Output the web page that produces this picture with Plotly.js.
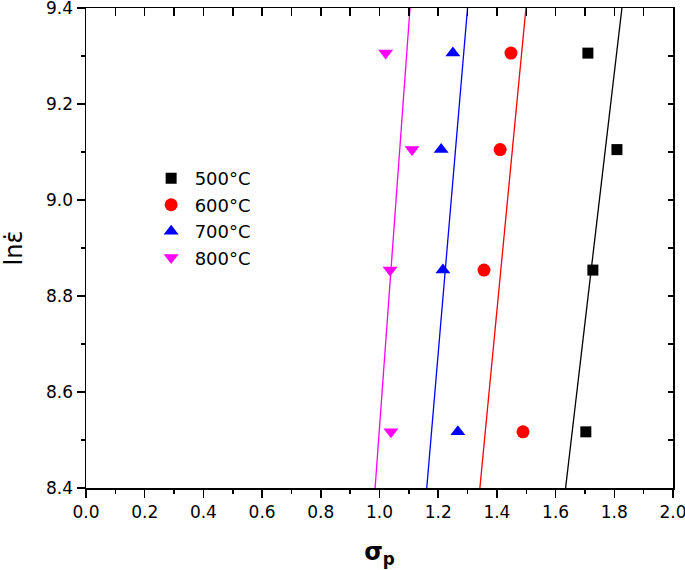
<!DOCTYPE html>
<html>
<head>
<meta charset="utf-8">
<script src="https://cdn.plot.ly/plotly-3.0.1.min.js"></script>
<style>html,body{margin:0;padding:0;background:#fff;}#chart{width:685px;height:570px;}</style>
</head>
<body>
<div id="chart"></div>
<script>
// Data
const lnStrainRate = [9.306, 9.105, 8.854, 8.517];
const series = ["500°C", "600°C", "700°C", "800°C"];
const sigma500 = [1.710, 1.809, 1.727, 1.703];
const sigma600 = [1.448, 1.411, 1.356, 1.489];
const sigma700 = [1.250, 1.210, 1.216, 1.267];
const sigma800 = [1.021, 1.111, 1.036, 1.039];
// Linear fit lines: sigma at lnε = 8.4 and 9.4
const fitY = [8.4, 9.4];
const fit500 = [1.634, 1.826];
const fit600 = [1.342, 1.499];
const fit700 = [1.161, 1.300];
const fit800 = [0.985, 1.104];
// Tick labels
const xTickVals = [0, 0.2, 0.4, 0.6, 0.8, 1.0, 1.2, 1.4, 1.6, 1.8, 2.0];
const xTickText = ["0.0", "0.2", "0.4", "0.6", "0.8", "1.0", "1.2", "1.4", "1.6", "1.8", "2.0"];
const yTickVals = [8.4, 8.6, 8.8, 9.0, 9.2, 9.4];
const yTickText = ["8.4", "8.6", "8.8", "9.0", "9.2", "9.4"];

const colors = ["#000000", "#ff0000", "#0000ff", "#ff00ff"];
const symbols = ["square", "circle", "triangle-up", "triangle-down"];
const sizes = [11, 13, 13, 13];
const sigmas = [sigma500, sigma600, sigma700, sigma800];
const fits = [fit500, fit600, fit700, fit800];

const traces = [];
for (let i = 0; i < 4; i++) {
  traces.push({
    x: sigmas[i], y: lnStrainRate, type: "scatter", mode: "markers",
    name: series[i],
    marker: {symbol: symbols[i], color: colors[i], size: sizes[i]}
  });
}
for (let i = 0; i < 4; i++) {
  traces.push({
    x: fits[i], y: fitY, type: "scatter", mode: "lines",
    line: {color: colors[i], width: 1.3}, showlegend: false, hoverinfo: "skip"
  });
}
traces.push({x: [], y: [], xaxis: "x2", yaxis: "y2", showlegend: false, type: "scatter", mode: "markers"});

const font = "DejaVu Sans, sans-serif";
const layout = {
  width: 685, height: 570,
  margin: {l: 86, r: 12, t: 8, b: 82},
  paper_bgcolor: "#fff", plot_bgcolor: "#fff",
  font: {family: font, size: 17, color: "#000"},
  showlegend: true,
  legend: {
    x: 0.105, y: 0.683, xanchor: "left", yanchor: "top",
    font: {family: font, size: 18, color: "#000"},
    bgcolor: "rgba(0,0,0,0)", traceorder: "normal",
    itemwidth: 37
  },
  xaxis: {
    range: [0, 2], tickmode: "array", tickvals: xTickVals, ticktext: xTickText,
    ticks: "outside", ticklen: 8, tickwidth: 1.5, tickcolor: "#000",
    minor: {dtick: 0.1, tick0: 0, ticks: "outside", ticklen: 4, tickwidth: 1.5, tickcolor: "#000"},
    showline: true, linecolor: "#000", linewidth: 1.5,
    showgrid: false, zeroline: false, ticklabeloverflow: "allow",
    tickfont: {family: font, size: 17, color: "#000"},
    title: {text: "<b>σ<sub>p</sub></b>", font: {family: font, size: 24, color: "#000"}, standoff: 22}
  },
  yaxis: {
    range: [8.4, 9.4], tickmode: "array", tickvals: yTickVals, ticktext: yTickText,
    ticks: "outside", ticklen: 8, tickwidth: 1.5, tickcolor: "#000",
    minor: {dtick: 0.1, tick0: 8.4, ticks: "outside", ticklen: 4, tickwidth: 1.5, tickcolor: "#000"},
    showline: true, linecolor: "#000", linewidth: 1.5,
    showgrid: false, zeroline: false, ticklabeloverflow: "allow",
    tickfont: {family: font, size: 17, color: "#000"},
    title: {text: "lnε̇", font: {family: font, size: 24, color: "#000"}, standoff: 20}
  },
  xaxis2: {
    overlaying: "x", side: "top", anchor: "y", range: [0, 2], dtick: 0.1, tick0: 0,
    ticks: "inside", ticklen: 8, tickwidth: 1.5, tickcolor: "#000",
    showticklabels: false, showline: true, linecolor: "#000", linewidth: 1.5,
    showgrid: false, zeroline: false
  },
  yaxis2: {
    overlaying: "y", side: "right", anchor: "x", range: [8.4, 9.4], dtick: 0.1, tick0: 8.4,
    ticks: "inside", ticklen: 5, tickwidth: 1.5, tickcolor: "#000",
    showticklabels: false, showline: true, linecolor: "#000", linewidth: 1.5,
    showgrid: false, zeroline: false
  }
};
Plotly.newPlot("chart", traces, layout, {displayModeBar: false, staticPlot: true});
</script>
</body>
</html>
